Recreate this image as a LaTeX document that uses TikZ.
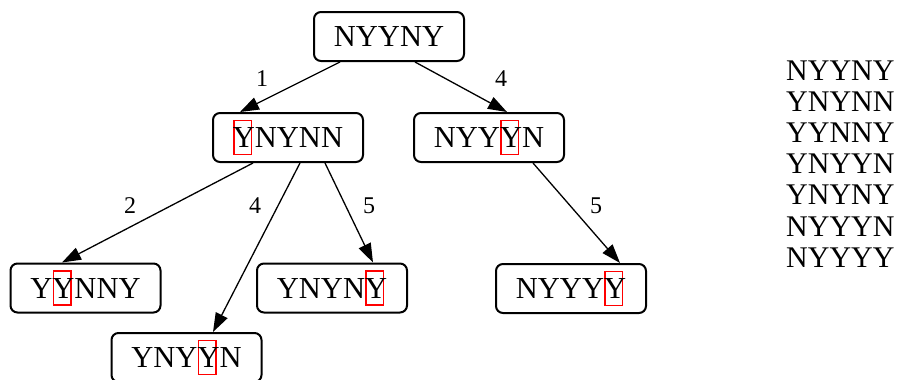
\documentclass[tikz,border=0pt]{standalone}
\usepackage{fontspec}
\setmainfont{Liberation Serif}
\usetikzlibrary{arrows.meta}
\newcommand\stt{\rule[-6.5pt]{0pt}{33pt}}
\newcommand\hl[1]{\sbox0{#1}\rlap{{\setlength\fboxsep{0pt}\setlength\fboxrule{1.3pt}\color{red}\hspace{0.3pt}\framebox[\dimexpr\wd0-3.2pt\relax]{\rule[-6.3pt]{0pt}{32.6pt}}}}#1}
\tikzset{
  st/.style={draw, line width=2pt, rounded corners=7pt, minimum width=150pt, minimum height=49pt, inner sep=0pt, font=\fontsize{30.5}{31}\selectfont},
  edge/.style={line width=1.3pt, -{Triangle[length=19pt,width=13pt]}},
  lab/.style={font=\fontsize{24}{25}\selectfont, inner sep=0pt},
  col/.style={font=\fontsize{30}{31}\selectfont, inner sep=0pt, anchor=base west}
}
\begin{document}
\begin{tikzpicture}[x=1pt,y=-1pt]
\useasboundingbox (0,0) rectangle (900,380);
\node[st] (root) at (389,36.5) {\stt NYYNY};
\node[st] (a) at (288,137.5) {\stt\hl{Y}NYNN};
\node[st] (b) at (489,137.5) {\stt NYY\hl{Y}N};
\node[st] (c) at (85.5,288) {\stt Y\hl{Y}NNY};
\node[st] (d) at (186.5,357.5) {\stt YNY\hl{Y}N};
\node[st] (e) at (332,288) {\stt YNYN\hl{Y}};
\node[st] (f) at (571,288.5) {\stt NYYY\hl{Y}};

\draw[edge] ([xshift=-49pt]root.south) -- ([xshift=-48pt]a.north);
\draw[edge] ([xshift=26pt]root.south) -- ([xshift=18pt]b.north);
\draw[edge] ([xshift=-35pt]a.south) -- ([xshift=-23.5pt]c.north);
\draw[edge] ([xshift=12pt]a.south) -- ([xshift=26.5pt]d.north);
\draw[edge] ([xshift=37pt]a.south) -- ([xshift=41pt]e.north);
\draw[edge] ([xshift=44pt]b.south) -- ([xshift=49pt]f.north);

\node[lab] (l1) at (262,79) {1};
\node[lab] (l2) at (501,79) {4};
\node[lab] (l3) at (130,206) {2};
\node[lab] (l4) at (255,206) {4};
\node[lab] (l5) at (369,206) {5};
\node[lab] (l6) at (596,206) {5};

\node[col] (r1) at (786,80) {NYYNY};
\node[col] (r2) at (786,111.2) {YNYNN};
\node[col] (r3) at (786,142.4) {YYNNY};
\node[col] (r4) at (786,173.6) {YNYYN};
\node[col] (r5) at (786,204.8) {YNYNY};
\node[col] (r6) at (786,236) {NYYYN};
\node[col] (r7) at (786,267.2) {NYYYY};
\end{tikzpicture}
\end{document}
